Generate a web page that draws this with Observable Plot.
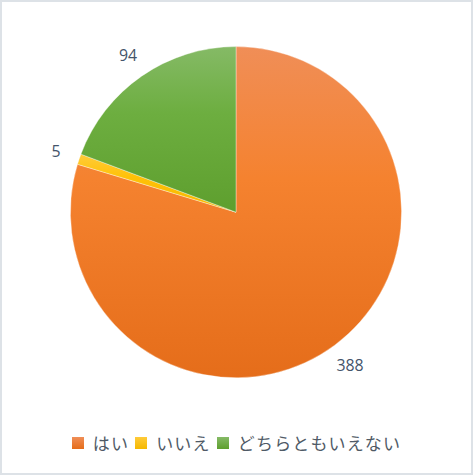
<!DOCTYPE html>
<html>
<head>
<meta charset="utf-8">
<script src="https://cdn.jsdelivr.net/npm/d3@7"></script>
<script src="https://cdn.jsdelivr.net/npm/@observablehq/plot@0.6"></script>
<style>
  html, body { margin: 0; padding: 0; background: #fff; }
  #wrap { position: relative; width: 473px; height: 475px; box-sizing: border-box; border: 2px solid #DDE2E7; background: #fff; overflow: hidden; }
  #chart { position: absolute; left: -2px; top: -2px; }
  #legend { position: absolute; left: 0; right: 0; top: 428px; display: flex; justify-content: center; align-items: center;
    font-family: "Noto Sans CJK JP", sans-serif; font-size: 17px; color: #4F5A66; letter-spacing: 1.2px; }
  .item { display: flex; align-items: center; margin: 0 3px; }
  .sw { width: 12px; height: 12px; margin-right: 9px; }
</style>
</head>
<body>
<div id="wrap"><div id="chart"></div><div id="legend"></div></div>
<script>
const categories = ["はい", "いいえ", "どちらともいえない"];
const values = [388, 5, 94];
const gradTop = ["#F08E57", "#FFCB3A", "#85BA66"];
const gradMid = ["#F5822F", "#FFC107", "#6DAE40"];
const gradBottom = ["#E56D1A", "#F5B800", "#5E9F2E"];

const data = categories.map((c, i) => ({category: c, value: values[i], i}));
const pie = d3.pie().value(d => d.value).sort(null)(data);
const labelR = 1.15;
const labels = pie.map(p => {
  const a = (p.startAngle + p.endAngle) / 2;
  return {x: Math.sin(a) * labelR, y: Math.cos(a) * labelR, text: String(p.data.value)};
});

function pieMark() {
  return (index, scales, values_, dims, context) => {
    const sx = scales.x, sy = scales.y;
    const cx = sx(0), cy = sy(0);
    const r = sx(1) - sx(0);
    const svg = d3.create("svg:g");
    const defs = svg.append("defs");
    pie.forEach((p, k) => {
      const g = defs.append("linearGradient").attr("id", "grad" + k)
        .attr("x1", 0).attr("y1", 0).attr("x2", 0).attr("y2", 1);
      g.append("stop").attr("offset", "0%").attr("stop-color", gradTop[k]);
      g.append("stop").attr("offset", "40%").attr("stop-color", gradMid[k]);
      g.append("stop").attr("offset", "100%").attr("stop-color", gradBottom[k]);
    });
    const arc = d3.arc().innerRadius(0).outerRadius(r);
    svg.append("g").attr("transform", `translate(${cx},${cy})`)
      .selectAll("path").data(pie).join("path")
      .attr("d", arc)
      .attr("fill", (d, k) => `url(#grad${k})`)
      .attr("stroke", "#ffffff")
      .attr("stroke-width", 0.6)
      .attr("stroke-opacity", 0.6);
    return svg.node();
  };
}

const plot = Plot.plot({
  width: 475,
  height: 477,
  margin: 0,
  style: {fontSize: "16px"},
  x: {domain: [-1, 1], range: [71, 405], axis: null},
  y: {domain: [-1, 1], range: [381, 47], axis: null},
  marks: [
    pieMark(),
    Plot.text(labels, {x: "x", y: "y", text: "text", fontSize: 16,
      fontFamily: "'Open Sans', 'DejaVu Sans', sans-serif", fill: "#44546A"})
  ]
});
document.getElementById("chart").appendChild(plot);

const legend = document.getElementById("legend");
categories.forEach((c, i) => {
  const it = document.createElement("div");
  it.className = "item";
  const sw = document.createElement("div");
  sw.className = "sw";
  sw.style.background = `linear-gradient(${gradTop[i]}, ${gradBottom[i]})`;
  const t = document.createElement("span");
  t.textContent = c;
  it.appendChild(sw); it.appendChild(t);
  legend.appendChild(it);
});
</script>
</body>
</html>
